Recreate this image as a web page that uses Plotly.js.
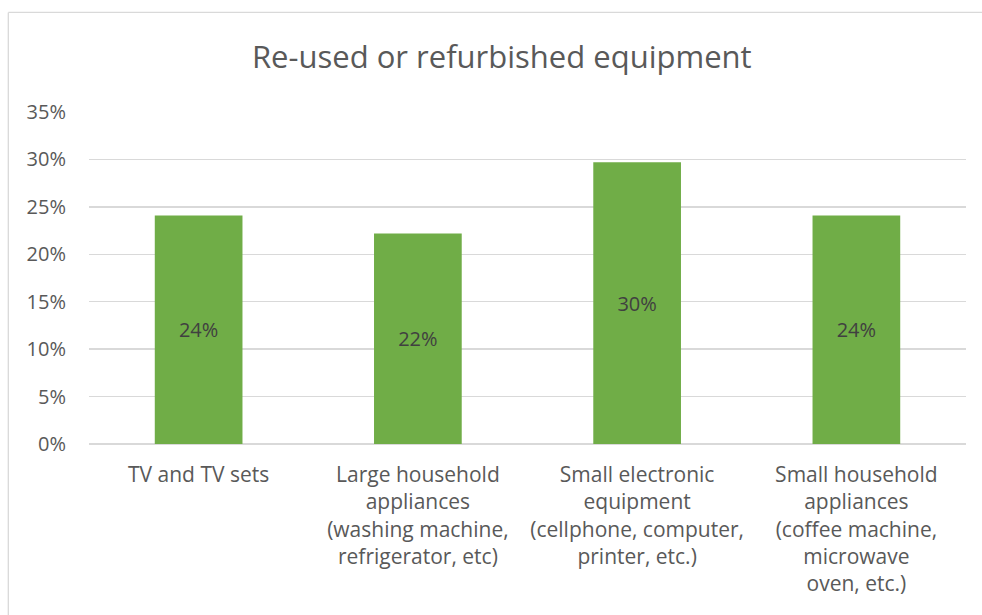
<!DOCTYPE html>
<html>
<head>
<meta charset="utf-8">
<script src="https://cdn.plot.ly/plotly-3.0.1.min.js"></script>
<style>
html,body{margin:0;padding:0;background:#fff;}
#chart{width:982px;height:615px;}
</style>
</head>
<body>
<div id="chart"></div>
<script>
const categories = ["TV and TV sets", "Large household appliances", "Small electronic equipment", "Small household appliances"];
const tickLabels = [
  "TV and TV sets",
  "Large household<br>appliances<br>(washing machine,<br>refrigerator, etc)",
  "Small electronic<br>equipment<br>(cellphone, computer,<br>printer, etc.)",
  "Small household<br>appliances<br>(coffee machine,<br>microwave<br>oven, etc.)"
];
const values = [0.241, 0.222, 0.297, 0.241];
const yTicks = [0, 0.05, 0.10, 0.15, 0.20, 0.25, 0.30, 0.35];

const font = "'Open Sans', 'Liberation Sans', sans-serif";
const trace = {
  type: 'bar',
  x: categories,
  y: values,
  marker: {color: '#70AD47'},
  texttemplate: '%{y:.0%}',
  textposition: 'inside',
  insidetextanchor: 'middle',
  textangle: 0,
  textfont: {family: font, size: 20, color: '#404040'},
  hoverinfo: 'x+y'
};
const layout = {
  width: 982, height: 615,
  margin: {l: 89, r: 16, t: 112, b: 171},
  paper_bgcolor: '#ffffff', plot_bgcolor: '#ffffff',
  bargap: 0.6,
  showlegend: false,
  title: {text: 'Re-used or refurbished equipment', x: 0.511, xanchor: 'center', y: 0.907, yanchor: 'middle',
          font: {family: font, size: 31, color: '#595959'}},
  xaxis: {
    tickmode: 'array', tickvals: categories, ticktext: tickLabels,
    tickfont: {family: font, size: 21, color: '#595959'},
    showgrid: false, showline: false, ticks: '', zeroline: false,
    ticklabelstandoff: 16, fixedrange: true
  },
  yaxis: {
    range: [0, 0.35], tickmode: 'array', tickvals: yTicks, tickformat: '.0%',
    tickfont: {family: font, size: 20, color: '#595959'},
    showgrid: true, gridcolor: '#d9d9d9', gridwidth: 1.3,
    zeroline: true, zerolinecolor: '#d9d9d9', zerolinewidth: 1.3,
    showline: false, ticks: '', ticklabelstandoff: 22, fixedrange: true
  },
  shapes: [
    {type: 'line', xref: 'paper', yref: 'paper', x0: -0.092, x1: 1.2, y0: 1.3, y1: 1.3, line: {color: '#d9d9d9', width: 1.3}},
    {type: 'line', xref: 'paper', yref: 'paper', x0: -0.092, x1: -0.092, y0: 1.3, y1: -0.7, line: {color: '#d9d9d9', width: 1.3}}
  ]
};
Plotly.newPlot('chart', [trace], layout, {displayModeBar: false, staticPlot: true});
</script>
</body>
</html>
